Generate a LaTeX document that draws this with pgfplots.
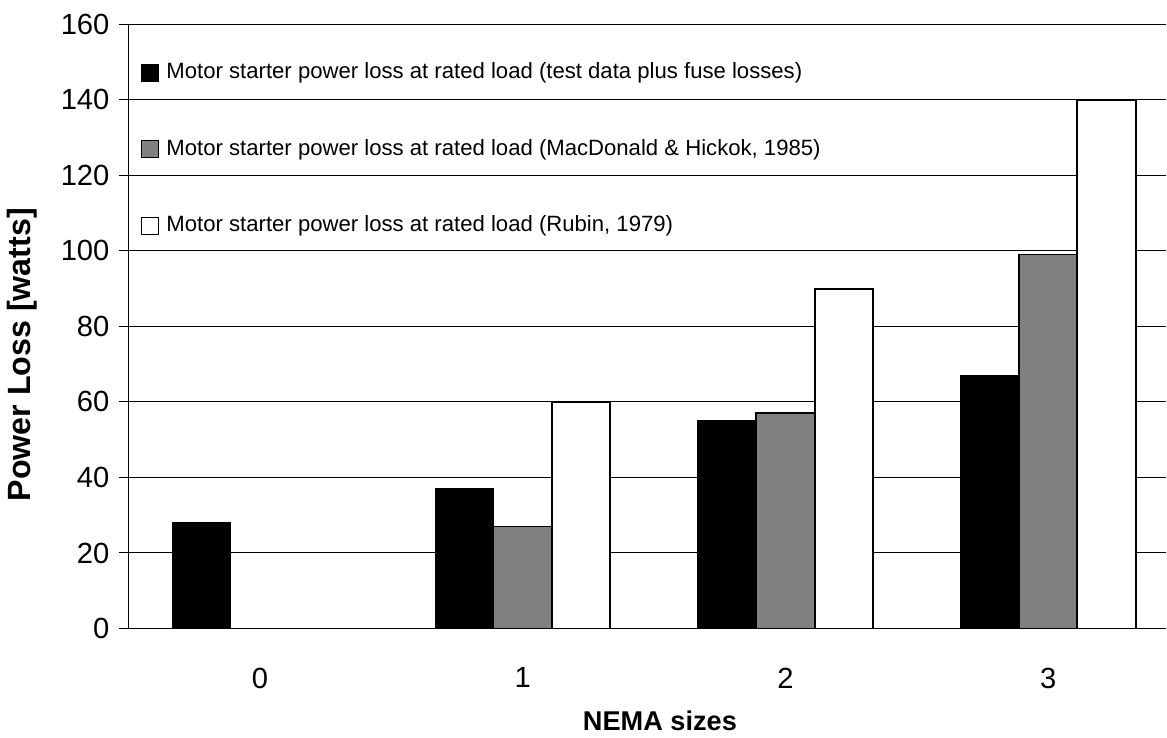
\documentclass[border=0pt]{standalone}
\usepackage{pgfplots}
\pgfplotsset{compat=1.18}
\usepackage{fontspec}
\setmainfont{Liberation Sans}

\begin{document}
\begin{tikzpicture}
\begin{axis}[
    width=516pt, height=300.5pt,
    scale only axis,
    xmin=-0.5, xmax=3.45,
    ymin=0, ymax=160,
    xtick={0,1,2,3},
    ytick={0,20,...,160},
    xtick style={draw=none},
    ytick style={black, line width=0.5pt},
    tick align=outside,
    major tick length=5pt,
    axis x line*=bottom,
    axis y line*=left,
    axis line style={black, line width=0.6pt, -},
    ymajorgrids=true,
    grid style={black, line width=0.5pt},
    /pgf/number format/assume math mode=true,
    ticklabel style={font=\fontsize{14.5}{16}\selectfont},
    xticklabel style={yshift=-11pt},
    yticklabel style={xshift=-1pt},
    xlabel={NEMA sizes},
    ylabel={Power Loss [watts]},
    xlabel style={font=\bfseries\fontsize{13.5}{16}\selectfont,
        at={(axis description cs:0.512,-0.153)}, anchor=center},
    ylabel style={font=\bfseries\fontsize{16}{18}\selectfont,
        at={(axis description cs:-0.103,0.453)}, anchor=center},
    ybar=0pt,
    bar width=0.2222,
    legend cell align=left,
    legend style={
        draw=none, fill=none, inner sep=0pt,
        at={(axis description cs:0.0117,0.9386)}, anchor=north west,
        font=\fontsize{11}{13}\selectfont,
        nodes={inner sep=0pt, text height=8.6pt, text depth=2.5pt},
        row sep=26.9pt, column sep=3.5pt,
    },
    legend image code/.code={
        \draw[#1, draw=black, line width=0.6pt] (0pt,-4.25pt) rectangle (8.5pt,4.25pt);
    },
]

\addplot[fill=black, draw=black, line width=0.6pt, bar shift=-0.2222]
    coordinates {(0,28) (1,37) (2,55) (3,67)};
\addlegendentry{Motor starter power loss at rated load (test data plus fuse losses)}

\addplot[fill=black!50, draw=black, line width=0.8pt, bar shift=0]
    coordinates {(1,27) (2,57) (3,99)};
\addlegendentry{Motor starter power loss at rated load (MacDonald \& Hickok, 1985)}

\addplot[fill=white, draw=black, line width=1pt, bar shift=0.2222]
    coordinates {(1,60) (2,90) (3,140)};
\addlegendentry{Motor starter power loss at rated load (Rubin, 1979)}

\end{axis}
% a little empty room above the top tick label, as in the reference
\path (current axis.north west) ++(0,12pt);
\end{tikzpicture}
\end{document}
